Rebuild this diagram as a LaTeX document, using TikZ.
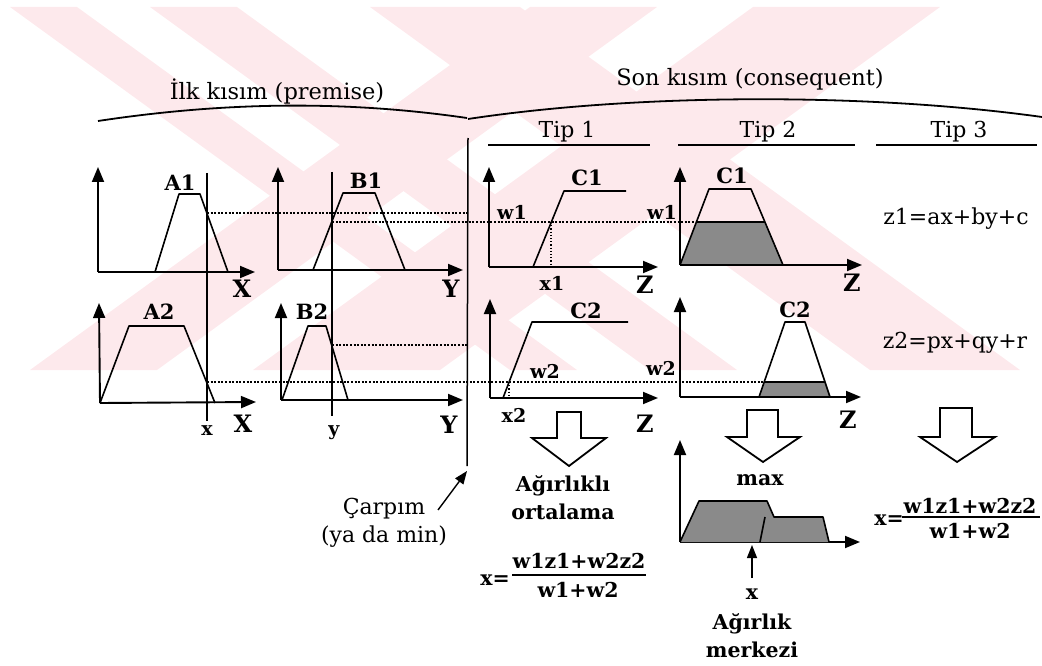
\documentclass[tikz,border=0pt]{standalone}
\usepackage{fontspec}
\setmainfont{DejaVu Serif}
\usetikzlibrary{arrows.meta}
\definecolor{wm}{RGB}{253,233,236}
\definecolor{hatchgray}{RGB}{138,138,138}
\tikzset{
  axis/.style={line width=1.9pt,-{Triangle[length=15pt,width=12pt]}},
  thinarr/.style={line width=1.4pt,-{Triangle[length=13pt,width=10pt]}},
  mf/.style={line width=1.6pt,line join=round},
  guide/.style={line width=1.1pt},
  dots/.style={line width=1.6pt,dash pattern=on 2pt off 1.6pt},
  lbl/.style={font=\fontsize{21}{23}\selectfont\bfseries,inner sep=0pt},
  axl/.style={font=\fontsize{24}{26}\selectfont\bfseries,inner sep=0pt},
  sml/.style={font=\fontsize{19}{21}\selectfont\bfseries,inner sep=0pt},
  txt/.style={font=\fontsize{22}{28}\selectfont,inner sep=0pt,align=center},
  ttl/.style={font=\fontsize{22.5}{28}\selectfont,inner sep=0pt},
  btxt/.style={font=\fontsize{20.5}{28}\selectfont\bfseries,inner sep=0pt,align=center},
  hollow/.style={line width=1.8pt,fill=white,line join=miter},
  brace/.style={line width=1.8pt},
}
\begin{document}
\begin{tikzpicture}[x=1pt,y=-1pt]
\useasboundingbox (0,0) rectangle (1042,666);
% watermark
\begin{scope}
\clip (0,7) rectangle (1042,370);
\fill[wm] (10,7) -- (77,7) -- (577,370) -- (510,370) -- cycle;
\fill[wm] (150,7) -- (237,7) -- (737,370) -- (650,370) -- cycle;
\fill[wm] (370,7) -- (520,7) -- (1020,370) -- (870,370) -- cycle;
\fill[wm] (530,7) -- (657,7) -- (157,370) -- (30,370) -- cycle;
\fill[wm] (753,7) -- (940,7) -- (440,370) -- (253,370) -- cycle;
\end{scope}

% titles and braces
\node[ttl,anchor=base] (prem) at (277,100) {İlk kısım (premise)};
\node[ttl,anchor=base] (cons) at (750,86) {Son kısım (consequent)};
\draw[brace] (98,121) .. controls (230,101) and (350,101) .. (467,118);
\draw[brace] (468,119) .. controls (640,93) and (870,93) .. (1042,117);
\node[txt,anchor=base] (tip1) at (567,138) {Tip 1};
\node[txt,anchor=base] (tip2) at (768,138) {Tip 2};
\node[txt,anchor=base] (tip3) at (959,138) {Tip 3};
\draw[line width=1.5pt] (488,145) -- (650,145);
\draw[line width=1.5pt] (678,145) -- (855,145);
\draw[line width=1.5pt] (876,145) -- (1037,145);

% separator and Carpim
\coordinate (septop) at (468,138);
\coordinate (sepbot) at (467,466);
\draw[line width=1.5pt] (septop) -- (sepbot);
\node[txt] (carpim) at (384,523) {Çarpım\\(ya da min)};
\coordinate (cs) at (438,510);
\coordinate (ce) at (467,471);
\draw[thinarr] (cs) -- (ce);

% dotted level lines
\draw[dots] (207,213) -- (467,213);
\draw[dots] (332,222) -- (697,222);
\draw[dots] (332,345) -- (467,345);
\draw[dots] (207,382) -- (764,382);

% shaded areas (behind outlines)
\fill[hatchgray] (680,265) -- (697,222) -- (765,222) -- (783,265) -- cycle;
\fill[hatchgray] (759,397) -- (764.5,382) -- (824.7,382) -- (830,397) -- cycle;

% vertical x and y lines
\draw[guide] (207,173) -- (207,421);
\draw[guide] (332,172) -- (332,416);

% panel A1
\draw[axis] (98,272) -- (255,272);
\draw[axis] (98,272) -- (98,167);
\draw[mf] (155,272) -- (179,194) -- (200,194) -- (228,272);
\node[lbl] (A1) at (180,183) {A1};
\node[axl] (X1) at (242,289) {X};
% panel B1
\draw[axis] (278,270) -- (463,270);
\draw[axis] (278,270) -- (278,167);
\draw[mf] (313,270) -- (343,193) -- (375,193) -- (405,270);
\node[lbl] (B1) at (366,181) {B1};
\node[axl] (Y1) at (451,289) {Y};
% panel A2
\draw[axis] (100,403) -- (256,402);
\draw[axis] (100,403) -- (99,303);
\draw[mf] (100,403) -- (129,326) -- (184,326) -- (215,403);
\node[lbl] (A2) at (159,312) {A2};
\node[axl] (X2) at (243,424) {X};
\node[sml] (xv) at (207,431) {x};
% panel B2
\draw[axis] (281,400) -- (463,400);
\draw[axis] (281,400) -- (281,303);
\draw[mf] (282,400) -- (308,326) -- (326,326) -- (348,400);
\node[lbl] (B2) at (312,312) {B2};
\node[axl] (Y2) at (449,425) {Y};
\node[sml] (yv) at (334,433) {y};

% Tip 1 upper
\draw[axis] (489,267) -- (658,267);
\draw[axis] (489,267) -- (489,167);
\draw[mf] (533,267) -- (564,191) -- (626,191);
\draw[line width=1.2pt,dotted] (551,222) -- (551,267);
\node[lbl] (C1a) at (587,178) {C1};
\node[sml] (w1a) at (512,212) {w1};
\node[sml] (x1) at (552,283) {x1};
\node[axl] (Z1) at (645,285) {Z};
% Tip 1 lower
\draw[axis] (490,398) -- (658,398);
\draw[axis] (490,398) -- (490,299);
\draw[mf] (503,398) -- (532,322) -- (628,322);
\draw[line width=1.2pt,dotted] (509,382) -- (509,398);
\node[lbl] (C2a) at (586,311) {C2};
\node[sml] (w2a) at (545,371) {w2};
\node[sml] (x2) at (514,415) {x2};
\node[axl] (Z2) at (645,424) {Z};
% Tip 2 upper
\draw[axis] (680,265) -- (862,265);
\draw[axis] (680,265) -- (680,167);
\draw[mf] (680,265) -- (709,189) -- (751,189) -- (783,265);
\draw[mf] (697,222) -- (765,222);
\node[lbl] (C1b) at (732,176) {C1};
\node[sml] (w1b) at (662,212) {w1};
\node[axl] (Z3) at (852,283) {Z};
% Tip 2 lower
\draw[axis] (680,397) -- (861,397);
\draw[axis] (680,397) -- (680,297);
\draw[mf] (759,397) -- (785,322) -- (805,322) -- (830,397);
\draw[mf] (764.5,382) -- (824.7,382);
\node[lbl] (C2b) at (795,310) {C2};
\node[sml] (w2b) at (661,368) {w2};
\node[axl] (Z4) at (848,420) {Z};
% Tip 3 formulas
\node[txt] (z1) at (956,219) {z1=ax+by+c};
\node[txt] (z2) at (955,343) {z2=px+qy+r};

% hollow arrows
\draw[hollow] (557,412) -- (581,412) -- (581,438) -- (606,438) -- (569,466) -- (532,438) -- (557,438) -- cycle;
\draw[hollow] (747,410) -- (778,410) -- (778,437) -- (800,437) -- (763,462) -- (727,437) -- (747,437) -- cycle;
\draw[hollow] (940,408) -- (972,408) -- (972,437) -- (995,437) -- (957,462) -- (920,437) -- (940,437) -- cycle;

% Tip 1 result
\node[btxt] (agort) at (563,498) {Ağırlıklı\\ortalama};
\node[btxt] (xeq1) at (495,580) {x=};
\node[btxt] (num1) at (579,561) {w1z1+w2z2};
\node[btxt] (den1) at (578,590) {w1+w2};
\draw[line width=1.3pt] (512,575) -- (646,575);

% Tip 2 result
\node[btxt] (max) at (760,480) {max};
\draw[axis] (680,542) -- (860,542);
\draw[axis] (680,542) -- (680,440);
\fill[hatchgray] (680,542) -- (699,501) -- (767,501) -- (774,517) -- (823,517) -- (829,542) -- cycle;
\draw[mf] (680,542) -- (699,501) -- (767,501) -- (774,517) -- (823,517) -- (829,542);
\draw[mf] (760,542) -- (765,517);
\node[btxt] (xc) at (752,594) {x};
\coordinate (xcs) at (752,578);
\coordinate (xce) at (752,545);
\draw[thinarr] (xcs) -- (xce);
\node[btxt] (agmer) at (752,636) {Ağırlık\\merkezi};

% Tip 3 result
\node[btxt] (xeq2) at (889,520) {x=};
\node[btxt] (num2) at (970,506) {w1z1+w2z2};
\node[btxt] (den2) at (970,531) {w1+w2};
\draw[line width=1.3pt] (902,517) -- (1040,517);
\end{tikzpicture}
\end{document}
